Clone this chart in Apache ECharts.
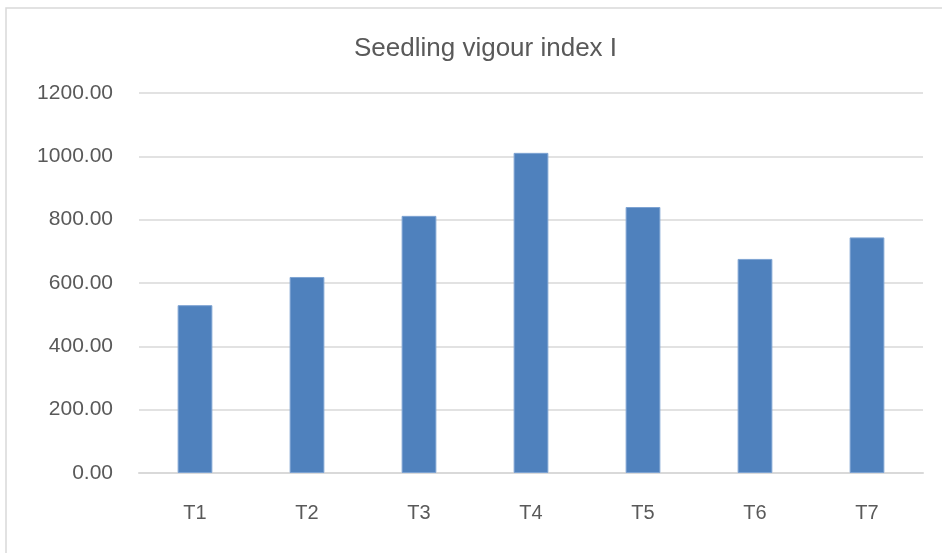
<!DOCTYPE html>
<html>
<head>
<meta charset="utf-8">
<script src="https://cdn.jsdelivr.net/npm/echarts@6/dist/echarts.min.js"></script>
<style>
  html, body { margin: 0; padding: 0; background: #fff; }
  #chart { width: 942px; height: 553px; }
</style>
</head>
<body>
<div id="chart"></div>
<script>
// chart data
const categories = ['T1', 'T2', 'T3', 'T4', 'T5', 'T6', 'T7'];
const vigourIndex = [530, 619, 812, 1011, 840, 676, 744];
const yTicks = { min: 0, max: 1200, step: 200 };

const chart = echarts.init(document.getElementById('chart'), null, { renderer: 'canvas' });

const option = {
    backgroundColor: '#ffffff',
    animation: false,
    title: {
        text: 'Seedling vigour index I',
        left: 349,
        top: 31,
        textStyle: {
            fontFamily: 'Liberation Sans',
            fontSize: 26,
            fontWeight: 'normal',
            color: '#595959'
        }
    },
    graphic: [{
        type: 'rect',
        shape: { x: 6, y: 8, width: 1000, height: 700 },
        style: { fill: 'none', stroke: '#d9d9d9', lineWidth: 1.5 },
        silent: true
    }],
    grid: {
        left: 139,
        right: 19,
        top: 93,
        bottom: 80
    },
    xAxis: {
        type: 'category',
        data: categories,
        axisTick: { show: false },
        axisLine: { lineStyle: { color: '#d9d9d9', width: 2 } },
        axisLabel: {
            margin: 30,
            fontFamily: 'Liberation Sans',
            fontSize: 20,
            color: '#595959'
        }
    },
    yAxis: {
        type: 'value',
        min: yTicks.min,
        max: yTicks.max,
        interval: yTicks.step,
        axisLine: { show: false },
        axisTick: { show: false },
        splitLine: { lineStyle: { color: '#d9d9d9', width: 1.5 } },
        axisLabel: {
            margin: 26,
            fontFamily: 'Liberation Sans',
            fontSize: 21,
            color: '#595959',
            formatter: v => v.toFixed(2)
        }
    },
    series: [{
        type: 'bar',
        data: vigourIndex,
        barWidth: '31%',
        itemStyle: {
            color: '#4f81bd',
            borderColor: '#7ea3d2',
            borderWidth: 1
        }
    }]
};

chart.setOption(option);
</script>
</body>
</html>
